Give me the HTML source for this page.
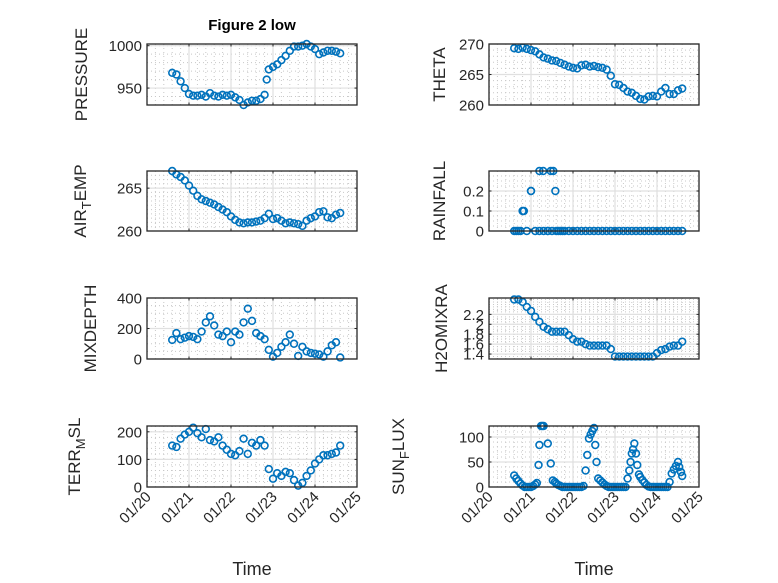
<!DOCTYPE html>
<html><head><meta charset="utf-8"><style>
html,body{margin:0;padding:0;background:#fff;}
svg{display:block;font-family:"Liberation Sans",sans-serif;}
</style></head><body>
<svg id="fig" width="778" height="583" viewBox="0 0 778 583" xmlns="http://www.w3.org/2000/svg">
<rect x="0" y="0" width="778" height="583" fill="#fff"/>
<text x="252" y="30" text-anchor="middle" font-size="15" font-weight="bold" fill="#000">Figure 2 low</text>
</svg>
<script>
// shared time axis (days since 01/20)
const T = [0.6,0.7,0.8,0.9,1.0,1.1,1.2,1.3,1.4,1.5,1.6,1.7,1.8,1.9,2.0,2.1,2.2,2.3,2.4,2.5,2.6,2.7,2.8,2.9,3.0,3.1,3.2,3.3,3.4,3.5,3.6,3.7,3.8,3.9,4.0,4.1,4.2,4.3,4.4,4.5,4.6];
const xTickLabels = ["01/20","01/21","01/22","01/23","01/24","01/25"];
const pressureT = T.concat([2.85]);
const pressureV = [968,966,958,950,943,941,941,942,940,944,941,940,942,941,942,939,936,930,933,935,935,937,942,972,975,978,983,988,994,999,999,1000,1002,999,996,990,992,994,994,993,991,960];
const thetaV = [269.3,269.2,269.4,269.2,269.0,268.8,268.3,267.8,267.6,267.3,267.2,266.9,266.6,266.3,266.1,266.0,266.5,266.6,266.3,266.4,266.2,266.1,265.8,264.8,263.4,263.3,262.8,262.2,262.0,261.5,261.0,260.9,261.4,261.5,261.4,262.2,262.8,261.8,261.8,262.4,262.7];
const airTempV = [267,266.6,266.3,265.9,265.3,264.7,264.1,263.7,263.5,263.3,263.1,262.8,262.5,262.2,261.7,261.3,261.0,260.9,261.0,261.0,261.1,261.2,261.5,262.0,261.4,261.5,261.2,260.9,261.0,260.9,260.8,260.6,261.2,261.5,261.7,262.2,262.3,261.6,261.5,261.9,262.1];
const rainT = T.concat([0.65,0.75,0.83,1.0,1.2,1.29,1.4,1.47,1.53,1.58,1.65,1.75]);
const rainV = [0,0,0.1,0,0.2,0,0,0,0,0,0,0,0,0,0,0,0,0,0,0,0,0,0,0,0,0,0,0,0,0,0,0,0,0,0,0,0,0,0,0,0,0,0,0.1,0.2,0.3,0.3,0,0.3,0.3,0.2,0,0];
const mixDepthV = [125,170,130,140,150,145,130,180,240,280,220,160,150,180,110,180,160,240,330,250,170,150,130,60,15,40,80,110,160,100,20,80,50,40,35,30,15,50,90,110,10];
const h2oV = [2.5,2.5,2.45,2.35,2.27,2.15,2.05,1.95,1.9,1.85,1.85,1.85,1.85,1.78,1.7,1.65,1.65,1.6,1.57,1.57,1.57,1.57,1.57,1.5,1.35,1.35,1.35,1.35,1.35,1.35,1.35,1.35,1.35,1.35,1.42,1.48,1.5,1.55,1.57,1.57,1.65];
const terrV = [150,145,175,190,200,215,195,180,210,170,165,180,150,135,120,115,130,175,120,160,150,170,150,65,30,50,40,55,50,25,5,15,40,60,85,100,115,115,120,125,150];
const sunT = [0.6,0.65,0.7,0.75,0.8,0.85,0.9,0.95,1.0,1.05,1.1,1.14,1.18,1.2,1.24,1.27,1.3,1.4,1.47,1.52,1.57,1.6,1.65,1.7,1.75,1.8,1.85,1.9,1.95,2.0,2.05,2.1,2.15,2.2,2.25,2.3,2.34,2.38,2.42,2.46,2.5,2.53,2.56,2.6,2.65,2.7,2.75,2.8,2.85,2.9,2.95,3.0,3.05,3.1,3.15,3.2,3.25,3.3,3.34,3.37,3.4,3.43,3.46,3.5,3.53,3.57,3.6,3.65,3.7,3.75,3.8,3.85,3.9,3.95,4.0,4.05,4.1,4.15,4.2,4.25,4.3,4.35,4.4,4.45,4.5,4.53,4.57,4.6];
const sunV = [23,17,12,7,3,0,0,0,0,2,5,8,44,84,122,122,122,87,47,13,10,7,4,2,0,0,0,0,0,0,0,0,0,0,2,33,64,97,105,112,118,84,50,17,13,9,5,2,0,0,0,0,0,0,0,0,0,17,33,50,67,75,87,67,44,25,20,14,9,4,1,0,0,0,0,0,0,0,0,0,10,27,35,42,50,40,30,22];

const svg = document.getElementById('fig');
const NS = 'http://www.w3.org/2000/svg';
const INK = '#262626';
function mk(tag, attrs, parent){
  const e = document.createElementNS(NS, tag);
  for (const k in attrs) e.setAttribute(k, attrs[k]);
  (parent || svg).appendChild(e);
  return e;
}
function plot(cfg){
  const g = mk('g', {});
  
  
  const L = cfg.box[0], R = cfg.box[1], Tp = cfg.box[2], B = cfg.box[3];
  const xs = v => L + (v - 0) / 5 * (R - L);
  const ys = v => B - (v - cfg.ymin) / (cfg.ymax - cfg.ymin) * (B - Tp);
  for (let d = 0; d <= 5.001; d += 0.2) {
    const x = xs(d);
    mk('line', {x1:x, x2:x, y1:Tp, y2:B, stroke:'#c8c8c8', 'stroke-width':1, 'stroke-dasharray':'1,3'}, g);
  }
  for (let v = cfg.ymin; v <= cfg.ymax + 1e-9; v += cfg.minor) {
    const y = ys(v);
    mk('line', {x1:L, x2:R, y1:y, y2:y, stroke:'#c8c8c8', 'stroke-width':1, 'stroke-dasharray':'1,3'}, g);
  }
  for (let d = 1; d < 5; d++) {
    const x = xs(d);
    mk('line', {x1:x, x2:x, y1:Tp, y2:B, stroke:'#e0e0e0', 'stroke-width':1.2}, g);
  }
  cfg.yticks.forEach(v => {
    const y = ys(v);
    mk('line', {x1:L, x2:R, y1:y, y2:y, stroke:'#e0e0e0', 'stroke-width':1.2}, g);
  });
  for (let d = 0; d <= 5; d++) {
    const x = xs(d);
    mk('line', {x1:x, x2:x, y1:B, y2:B-2.5, stroke:INK, 'stroke-width':1}, g);
    mk('line', {x1:x, x2:x, y1:Tp, y2:Tp+2.5, stroke:INK, 'stroke-width':1}, g);
  }
  cfg.yticks.forEach((v, i) => {
    const y = ys(v);
    mk('line', {x1:L, x2:L+2.5, y1:y, y2:y, stroke:INK, 'stroke-width':1}, g);
    mk('line', {x1:R, x2:R-2.5, y1:y, y2:y, stroke:INK, 'stroke-width':1}, g);
    const t = mk('text', {x:L-5, y:y+5.5, 'text-anchor':'end', 'font-size':15, fill:INK}, g);
    
    
    t.textContent = cfg.ylabels[i];
  });
  const mg = mk('g', {fill:'none', stroke:'#0072BD', 'stroke-width':1.6}, g);
  
  
  cfg.x.forEach((tv, i) => {
    const c = mk('circle', {cx:xs(tv), cy:ys(cfg.y[i]), r:3.4}, mg);
    
    
  });
  const bx = mk('rect', {x:L, y:Tp, width:R-L, height:B-Tp, fill:'none', stroke:INK, 'stroke-width':1.3}, g);
  
  
  const lx = cfg.lx, ly = (Tp + B) / 2;
  const yl = mk('text', {x:lx, y:ly, 'text-anchor':'middle', 'font-size':17, fill:INK, transform:'rotate(-90 '+lx+' '+ly+')'}, g);
  
  
  if (cfg.sub) {
    const a = mk('tspan', {}, yl); a.textContent = cfg.label[0];
    const b = mk('tspan', {dy:5, 'font-size':13}, yl); b.textContent = cfg.label[1];
    const c = mk('tspan', {dy:-5}, yl); c.textContent = cfg.label[2];
  } else {
    yl.textContent = cfg.label;
  }
  if (cfg.xlab) {
    xTickLabels.forEach((s, d) => {
      const x = xs(d), y = B + 10;
      const t = mk('text', {x:x+3, y:y+4, 'text-anchor':'end', 'font-size':15, fill:INK, transform:'rotate(-45 '+x+' '+y+')'}, g);
      
      
      t.textContent = s;
    });
    const xt = mk('text', {x:(L+R)/2, y:575, 'text-anchor':'middle', 'font-size':18, fill:INK}, g);
    
    
    xt.textContent = 'Time';
  }
}
const LB = [147, 357], RB = [489, 699];
plot({name:'pressure', box:[LB[0],LB[1],44,105], ymin:930, ymax:1002, minor:10, yticks:[950,1000], ylabels:['950','1000'], x:pressureT, y:pressureV, lx:87, label:'PRESSURE'});
plot({name:'theta', box:[RB[0],RB[1],44,105], ymin:260, ymax:270, minor:1, yticks:[260,265,270], ylabels:['260','265','270'], x:T, y:thetaV, lx:445, label:'THETA'});
plot({name:'air-temp', box:[LB[0],LB[1],171,231], ymin:260, ymax:267, minor:0.5, yticks:[260,265], ylabels:['260','265'], x:T, y:airTempV, lx:86, sub:true, label:['AIR','T','EMP']});
plot({name:'rainfall', box:[RB[0],RB[1],171,231], ymin:0, ymax:0.3, minor:0.025, yticks:[0,0.1,0.2], ylabels:['0','0.1','0.2'], x:rainT, y:rainV, lx:445, label:'RAINFALL'});
plot({name:'mixdepth', box:[LB[0],LB[1],298,359], ymin:0, ymax:400, minor:50, yticks:[0,200,400], ylabels:['0','200','400'], x:T, y:mixDepthV, lx:96, label:'MIXDEPTH'});
plot({name:'h2omixra', box:[RB[0],RB[1],298,359], ymin:1.3, ymax:2.53, minor:0.05, yticks:[1.4,1.6,1.8,2.0,2.2], ylabels:['1.4','1.6','1.8','2','2.2'], x:T, y:h2oV, lx:447, label:'H2OMIXRA'});
plot({name:'terr-msl', box:[LB[0],LB[1],426,487], ymin:0, ymax:221, minor:20, yticks:[0,100,200], ylabels:['0','100','200'], x:T, y:terrV, lx:80, sub:true, label:['TERR','M','SL'], xlab:true});
plot({name:'sun-flux', box:[RB[0],RB[1],426,487], ymin:0, ymax:122, minor:10, yticks:[0,50,100], ylabels:['0','50','100'], x:sunT, y:sunV, lx:404, sub:true, label:['SUN','F','LUX'], xlab:true});
</script>
</body></html>
